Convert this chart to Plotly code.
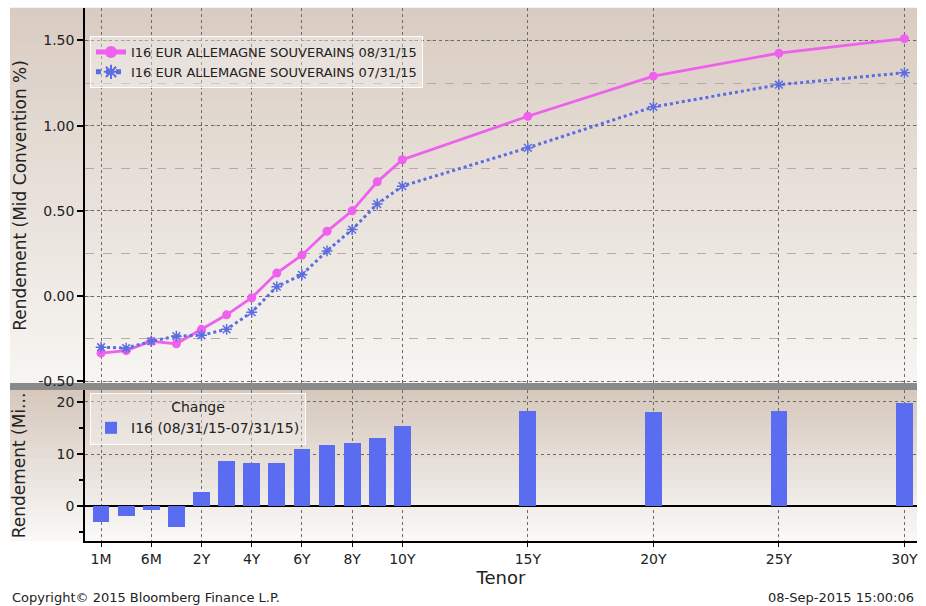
import plotly.graph_objects as go

# ---------------- data ----------------
tenors = ["1M", "3M", "6M", "1Y", "2Y", "3Y", "4Y", "5Y", "6Y", "7Y", "8Y", "9Y", "10Y",
          "15Y", "20Y", "25Y", "30Y"]
tenor_axis = [0, 1, 2, 3, 4, 5, 6, 7, 8, 9, 10, 11, 12, 17, 22, 27, 32]

yield_0831 = [-0.335, -0.32, -0.265, -0.28, -0.195, -0.11, -0.01, 0.135, 0.24, 0.38, 0.50,
              0.67, 0.80, 1.055, 1.29, 1.425, 1.51]
yield_0731 = [-0.30, -0.305, -0.265, -0.235, -0.23, -0.195, -0.095, 0.055, 0.125, 0.265, 0.39,
              0.54, 0.645, 0.87, 1.11, 1.24, 1.31]
change_bp = [-3.1, -1.9, -0.7, -4.0, 2.7, 8.6, 8.2, 8.2, 11.0, 11.7, 12.2, 13.0, 15.3,
             18.3, 18.1, 18.3, 19.9]

x_tickvals = [0, 2, 4, 6, 8, 10, 12, 17, 22, 27, 32]
x_ticktext = ["1M", "6M", "2Y", "4Y", "6Y", "8Y", "10Y", "15Y", "20Y", "25Y", "30Y"]
y1_tickvals = [-0.5, 0.0, 0.5, 1.0, 1.5]
y1_ticktext = ["-0.50", "0.00", "0.50", "1.00", "1.50"]
y2_tickvals = [0, 10, 20]
y2_ticktext = ["0", "10", "20"]

name_a = "I16 EUR ALLEMAGNE SOUVERAINS 08/31/15"
name_b = "I16 EUR ALLEMAGNE SOUVERAINS 07/31/15"
name_c = "I16 (08/31/15-07/31/15)"

# ---------------- styling ----------------
FONT = "DejaVu Sans"
MAGENTA = "#f060ee"
BLUE = "#5b6de0"
BAR = "#5a6cf0"
W, H = 926, 606
L, R, T, B = 85, 9, 8, 65
plot_w = W - L - R
plot_h = H - T - B

def py(pix):  # pixel y -> paper fraction
    return (H - B - pix) / plot_h

def px(pix):
    return (pix - L) / plot_w

top_dom = [py(383), 1.0]
bot_dom = [0.0, py(390)]

fig = go.Figure()

fig.add_trace(go.Scatter(
    x=tenor_axis, y=yield_0831, name=name_a, mode="lines+markers",
    line=dict(color=MAGENTA, width=2.8),
    marker=dict(symbol="circle", size=9, color=MAGENTA),
    xaxis="x", yaxis="y", legend="legend"))
fig.add_trace(go.Scatter(
    x=tenor_axis, y=yield_0731, name=name_b, mode="lines+markers",
    line=dict(color=BLUE, width=3, dash="dot"),
    marker=dict(symbol="asterisk-open", size=9, color=BLUE, line=dict(color=BLUE, width=1.5)),
    xaxis="x", yaxis="y", legend="legend"))
fig.add_trace(go.Bar(
    x=tenor_axis, y=change_bp, name=name_c, width=0.67,
    marker=dict(color=BAR, line=dict(width=0)),
    xaxis="x", yaxis="y2", legend="legend2"))

# gradient background strips
shapes = []
def gradient(y0pix, y1pix, c_top, c_bot, n=40):
    for i in range(n):
        a = y0pix + (y1pix - y0pix) * i / n
        b = y0pix + (y1pix - y0pix) * (i + 1) / n
        t = i / (n - 1)
        col = tuple(round(c_top[k] + (c_bot[k] - c_top[k]) * t) for k in range(3))
        shapes.append(dict(type="rect", xref="paper", yref="paper",
                           x0=px(10), x1=1.0, y0=py(b) - 0.0005, y1=py(a) + 0.0005,
                           fillcolor="rgb(%d,%d,%d)" % col, line=dict(width=0),
                           layer="below"))
gradient(8, 383, (217, 204, 194), (247, 245, 242))
gradient(390, 541, (214, 200, 189), (249, 248, 246), n=20)
# separator band
shapes.append(dict(type="rect", xref="paper", yref="paper", x0=px(10), x1=1.0,
                   y0=py(390), y1=py(383), fillcolor="#8c8a88", line=dict(width=0),
                   layer="below"))

fig.update_layout(
    width=W, height=H,
    margin=dict(l=L, r=R, t=T, b=B, autoexpand=False),
    paper_bgcolor="white", plot_bgcolor="rgba(0,0,0,0)",
    font=dict(family=FONT, size=14, color="#222"),
    shapes=shapes,
    bargap=0,
    xaxis=dict(range=[-0.64, 32.5], anchor="y2", domain=[0, 1], automargin=False,
               tickvals=x_tickvals, ticktext=x_ticktext,
               showgrid=True, gridcolor="#6e6a66", griddash="dot", gridwidth=1,
               showline=True, linecolor="black", linewidth=1.5,
               ticks="outside", ticklen=4, tickcolor="black",
               zeroline=False,
               tickfont=dict(size=14),
               title=dict(text="Tenor", font=dict(size=18), standoff=2)),
    yaxis=dict(domain=top_dom, range=[-0.51, 1.69], anchor="x", automargin=False,
               tickvals=y1_tickvals, ticktext=y1_ticktext,
               showgrid=True, gridcolor="#6e6a66", griddash="dot", gridwidth=1,
               minor=dict(dtick=0.25, tick0=0, showgrid=True, gridcolor="#b3aca6",
                          griddash="dash", ticks=""),
               showline=True, linecolor="black", linewidth=1.5,
               ticks="outside", ticklen=6, tickwidth=2, tickcolor="black",
               zeroline=False, tickfont=dict(size=14),
               title=dict(text="Rendement (Mid Convention %)", font=dict(size=17), standoff=7)),
    yaxis2=dict(domain=bot_dom, range=[-6.7, 22.3], anchor="x", automargin=False,
                tickvals=y2_tickvals, ticktext=y2_ticktext,
                showgrid=True, gridcolor="#6e6a66", griddash="dot", gridwidth=1,
                minor=dict(dtick=5, tick0=0, showgrid=False, ticks="outside", ticklen=4,
                           tickcolor="black"),
                showline=True, linecolor="black", linewidth=1.5,
                ticks="outside", ticklen=6, tickwidth=2, tickcolor="black",
                zeroline=True, zerolinecolor="black", zerolinewidth=1.5,
                tickfont=dict(size=14),
                title=dict(text="Rendement (Mi...", font=dict(size=17), standoff=27)),
    legend=dict(x=px(90), y=py(36), xanchor="left", yanchor="top",
                bgcolor="rgba(255,255,255,0.35)", bordercolor="rgba(255,255,255,0.9)",
                borderwidth=1, font=dict(size=13, color="#222"),
                itemsizing="constant", tracegroupgap=0),
    legend2=dict(x=px(90), y=py(393), xanchor="left", yanchor="top",
                 bgcolor="rgba(255,255,255,0.35)", bordercolor="rgba(255,255,255,0.9)",
                 borderwidth=1, font=dict(size=14, color="#222"),
                 title=dict(text="Change", side="top center", font=dict(size=14))),
    showlegend=True,
    annotations=[
        dict(text="Copyright\u00a9 2015 Bloomberg Finance L.P.", xref="paper", yref="paper",
             x=px(10), y=py(597), xanchor="left", yanchor="middle", showarrow=False,
             font=dict(size=13, color="#222")),
        dict(text="08-Sep-2015 15:00:06", xref="paper", yref="paper",
             x=px(916), y=py(597), xanchor="right", yanchor="middle", showarrow=False,
             font=dict(size=13, color="#222")),
    ],
)

fig.write_html("out.html", config={"displayModeBar": False},
               post_script="document.body.style.margin='0';document.body.style.overflow='hidden';")
